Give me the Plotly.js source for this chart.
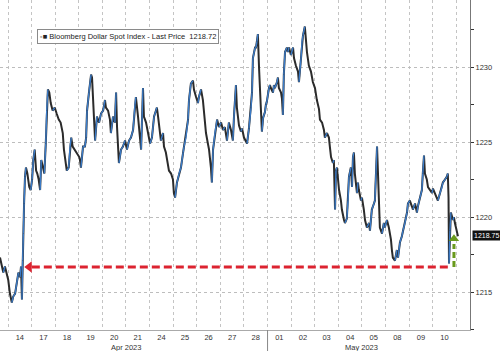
<!DOCTYPE html>
<html>
<head>
<meta charset="utf-8">
<script src="https://cdn.plot.ly/plotly-3.0.1.min.js"></script>
<style>
html,body{margin:0;padding:0;background:#fff;}
#chart{width:500px;height:351px;}
</style>
</head>
<body>
<div id="chart"></div>
<script>
// Trading-day labels (each label sits in the middle of its trading day)
const dayLabels = ['14','17','18','19','20','21','24','25','26','27','28','01','02','03','04','05','08','09','10'];
const monthLabels = ['Apr 2023', 'May 2023'];
const monthCenters = [5.0, 15.0];      // trading-day position of month label
const monthStart = [11];               // May 01 boundary

// Time in trading days since Apr 14 open, and Bloomberg Dollar Spot Index level
const t = [-0.34,-0.27,-0.20,-0.13,-0.06,0.01,0.08,0.16,0.22,0.30,0.37,0.44,0.51,0.55,0.59,0.62,0.65,0.68,0.72,0.76,0.82,0.90,0.96,1.02,1.07,1.13,1.19,1.24,1.30,1.36,1.41,1.47,1.54,1.60,1.64,1.69,1.75,1.81,1.89,1.98,2.06,2.15,2.23,2.32,2.37,2.43,2.49,2.57,2.63,2.68,2.74,2.83,2.91,3.02,3.05,3.09,3.18,3.26,3.31,3.35,3.43,3.52,3.56,3.60,3.64,3.69,3.77,3.86,3.94,4.03,4.11,4.15,4.24,4.32,4.36,4.45,4.53,4.58,4.62,4.66,4.70,4.79,4.87,4.96,5.04,5.13,5.21,5.30,5.38,5.42,5.51,5.59,5.64,5.72,5.76,5.85,5.93,6.02,6.10,6.19,6.27,6.31,6.36,6.40,6.48,6.57,6.61,6.69,6.78,6.82,6.91,6.99,7.03,7.08,7.16,7.25,7.33,7.42,7.46,7.54,7.63,7.67,7.75,7.84,7.88,7.97,8.05,8.09,8.18,8.26,8.31,8.39,8.47,8.52,8.60,8.64,8.69,8.77,8.86,8.94,9.03,9.11,9.19,9.28,9.36,9.45,9.53,9.58,9.62,9.66,9.70,9.75,9.79,9.87,9.92,10.00,10.08,10.13,10.21,10.30,10.34,10.38,10.47,10.51,10.55,10.59,10.64,10.68,10.72,10.76,10.81,10.89,10.93,10.97,11.06,11.10,11.14,11.23,11.27,11.31,11.40,11.44,11.48,11.57,11.61,11.65,11.69,11.74,11.82,11.86,11.91,11.99,12.08,12.12,12.20,12.29,12.33,12.42,12.46,12.50,12.58,12.63,12.67,12.75,12.80,12.84,12.92,13.01,13.09,13.18,13.22,13.31,13.39,13.43,13.52,13.60,13.64,13.69,13.77,13.81,13.86,13.90,13.94,13.98,14.03,14.11,14.15,14.24,14.28,14.36,14.41,14.45,14.53,14.58,14.62,14.66,14.70,14.79,14.83,14.87,14.96,15.00,15.08,15.13,15.21,15.30,15.34,15.42,15.51,15.55,15.64,15.68,15.72,15.76,15.85,15.93,15.97,16.06,16.14,16.23,16.27,16.31,16.40,16.48,16.53,16.61,16.69,16.74,16.82,16.91,16.95,17.03,17.12,17.16,17.25,17.33,17.37,17.46,17.54,17.58,17.63,17.67,17.75,17.80,17.88,17.97,18.01,18.09,18.18,18.22,18.31,18.39,18.43,18.52,18.60,18.64,18.67,18.69,18.73,18.77,18.86,18.90,18.94,19.03,19.07];
const price = [1217.3,1216.8,1216.3,1216.7,1216.3,1215.8,1214.9,1214.3,1214.7,1214.9,1215.6,1216.3,1216.0,1216.7,1214.5,1217.1,1218.9,1220.9,1222.7,1223.3,1222.9,1222.0,1221.8,1222.5,1223.8,1224.5,1223.1,1222.9,1222.5,1221.8,1223.8,1223.3,1222.9,1224.9,1227.1,1228.5,1228.3,1227.6,1227.1,1227.3,1226.9,1226.5,1226.3,1225.6,1224.5,1223.6,1223.1,1223.3,1224.7,1225.3,1224.7,1224.5,1224.3,1224.0,1223.8,1223.3,1224.7,1224.7,1225.3,1227.1,1228.3,1229.5,1229.3,1227.6,1226.5,1225.1,1226.7,1226.3,1226.9,1227.1,1227.8,1227.3,1227.1,1226.5,1225.6,1226.7,1226.3,1228.3,1226.0,1224.5,1223.6,1224.5,1224.7,1225.1,1224.5,1225.1,1225.3,1225.8,1227.5,1228.0,1226.7,1225.6,1224.5,1228.6,1226.7,1226.3,1225.6,1224.9,1225.3,1226.7,1227.1,1227.3,1226.7,1226.0,1225.1,1225.6,1224.7,1224.3,1223.6,1223.1,1222.9,1222.5,1221.6,1221.3,1222.3,1222.9,1223.3,1224.3,1224.7,1225.3,1226.5,1227.8,1228.9,1229.1,1228.5,1228.0,1227.6,1228.0,1228.5,1227.8,1226.7,1225.6,1224.9,1224.5,1223.3,1222.3,1224.5,1225.6,1226.5,1226.0,1226.3,1225.8,1226.0,1225.1,1226.3,1225.8,1225.1,1226.8,1227.8,1228.8,1227.3,1226.8,1226.1,1225.7,1225.9,1225.3,1225.1,1224.9,1225.9,1227.3,1228.3,1230.6,1231.3,1231.3,1231.7,1232.2,1229.9,1228.3,1226.8,1225.7,1226.6,1227.0,1227.5,1227.7,1228.6,1228.8,1228.6,1228.3,1228.8,1228.6,1229.0,1229.3,1228.6,1228.3,1227.9,1226.8,1229.5,1231.0,1231.3,1231.0,1231.3,1230.8,1231.3,1230.6,1230.1,1229.7,1229.0,1230.6,1231.7,1232.1,1232.7,1231.5,1231.0,1230.1,1229.9,1229.7,1229.0,1228.6,1227.8,1227.2,1226.5,1226.3,1225.8,1225.3,1225.6,1225.3,1224.7,1224.0,1223.6,1223.8,1220.5,1223.1,1223.3,1222.7,1221.8,1221.1,1220.5,1219.8,1219.6,1219.9,1221.1,1222.7,1223.3,1222.0,1224.0,1224.3,1222.9,1221.6,1222.3,1221.8,1221.1,1221.3,1220.5,1219.8,1219.3,1219.6,1219.1,1220.5,1220.9,1221.1,1224.7,1222.3,1220.5,1219.3,1218.9,1219.6,1219.3,1219.8,1219.3,1218.5,1217.8,1217.3,1217.1,1217.8,1217.3,1218.3,1218.7,1219.1,1219.6,1220.3,1220.9,1221.1,1220.7,1220.5,1220.9,1220.3,1220.7,1221.3,1221.8,1222.9,1224.1,1222.9,1222.5,1222.0,1221.8,1221.6,1221.9,1221.6,1221.3,1221.1,1221.6,1222.0,1222.3,1222.5,1222.7,1222.9,1221.3,1216.9,1219.1,1220.3,1219.8,1220.0,1219.6,1218.9,1218.72];

const seriesName = 'Bloomberg Dollar Spot Index - Last Price';
const lastPrice = '1218.72';
const lastTag = '1218.75';
const lastTagLevel = 1218.75;

// Annotation arrows (red: level of Apr 14 low zone; green: bounce)
const redLevel = 1216.67;
const redFrom = 18.64;
const redTo = 0.98;
const redHead = 0.9;
const greenT = 18.9;
const greenFrom = 1216.67;
const greenTo = 1218.2;
const greenHead = 1218.55;

const yTicks = [1215, 1220, 1225, 1230];

// Build up (blue) segments from the data for a two-tone look
const upX = [], upY = [];
for (let i = 1; i < t.length; i++) {
  if (price[i] >= price[i-1]) {
    upX.push(t[i-1], t[i], null);
    upY.push(price[i-1], price[i], null);
  }
}

const font = 'Liberation Sans, Arial, sans-serif';

const traces = [
  {x: t, y: price, type: 'scatter', mode: 'lines', line: {color: '#2b2b2b', width: 2.0}, hoverinfo: 'skip', showlegend: false},
  {x: upX, y: upY, type: 'scatter', mode: 'lines', line: {color: '#3c7cc8', width: 1.4}, hoverinfo: 'skip', showlegend: false, connectgaps: false},
  {x: [redFrom, redTo], y: [redLevel, redLevel], type: 'scatter', mode: 'lines', line: {color: '#dc2330', width: 3, dash: '8px,4px'}, hoverinfo: 'skip', showlegend: false},
  {x: [redHead], y: [redLevel], type: 'scatter', mode: 'markers', marker: {symbol: 'triangle-left', size: 10, color: '#dc2330'}, hoverinfo: 'skip', showlegend: false},
  {x: [greenT, greenT], y: [greenFrom, greenTo], type: 'scatter', mode: 'lines', line: {color: '#6a9a1c', width: 3, dash: '6px,3px'}, hoverinfo: 'skip', showlegend: false},
  {x: [greenT], y: [greenHead], type: 'scatter', mode: 'markers', marker: {symbol: 'triangle-up', size: 9, color: '#6a9a1c'}, hoverinfo: 'skip', showlegend: false}
];

const annotations = [
  {xref: 'paper', yref: 'paper', x: 0.079, y: 0.912, xanchor: 'left', yanchor: 'top', showarrow: false,
   text: '<span style="color:#b0b0b0">\u25AA</span>\u25A0 ' + seriesName + '  ' + lastPrice,
   font: {family: font, size: 7.5, color: '#222'}, bgcolor: '#fff', bordercolor: '#8a8a8a', borderwidth: 1, borderpad: 2},
  {xref: 'paper', yref: 'y', x: 1, y: lastTagLevel, xanchor: 'left', yanchor: 'middle', xshift: 2, showarrow: false,
   text: lastTag, font: {family: font, size: 7, color: '#fff'}, bgcolor: '#111', borderpad: 1}
];
monthLabels.forEach((m, i) => annotations.push({
  xref: 'x', yref: 'paper', x: monthCenters[i], y: -0.052, xanchor: 'center', yanchor: 'middle', showarrow: false,
  text: m, font: {family: font, size: 7.5, color: '#333'}
}));

const shapes = monthStart.map(v => ({type: 'line', xref: 'x', yref: 'paper', x0: v, x1: v, y0: -0.07, y1: 0, line: {color: '#888', width: 1}}));

const layout = {
  width: 500, height: 351,
  margin: {l: 0, r: 30, t: 0, b: 21, pad: 0},
  paper_bgcolor: '#fff', plot_bgcolor: '#fff',
  showlegend: false,
  xaxis: {
    range: [-0.34, 19.58],
    tickmode: 'array',
    tickvals: dayLabels.map((d, i) => i + 0.5),
    ticktext: dayLabels,
    ticks: '', showgrid: false, zeroline: false,
    showline: true, linecolor: '#aaa', linewidth: 1,
    tickfont: {family: font, size: 7.5, color: '#333'},
    minor: {tickmode: 'linear', tick0: 0, dtick: 1, showgrid: true, gridcolor: '#c4c4c4', griddash: 'dot', gridwidth: 1, ticks: ''}
  },
  yaxis: {
    side: 'right',
    range: [1212.47, 1234.47],
    tickmode: 'array', tickvals: yTicks, ticktext: yTicks.map(String),
    ticks: 'outside', ticklen: 3, tickcolor: '#333', tickwidth: 1,
    showgrid: true, gridcolor: '#bdbdbd', griddash: 'dot', gridwidth: 1,
    zeroline: false,
    showline: true, linecolor: '#777', linewidth: 1,
    tickfont: {family: font, size: 7.5, color: '#333'},
    minor: {tickmode: 'linear', tick0: 1212.5, dtick: 2.5, ticks: 'outside', ticklen: 3, tickcolor: '#333', showgrid: false}
  },
  annotations: annotations,
  shapes: shapes
};

Plotly.newPlot('chart', traces, layout, {staticPlot: true, displayModeBar: false});
</script>
</body>
</html>
